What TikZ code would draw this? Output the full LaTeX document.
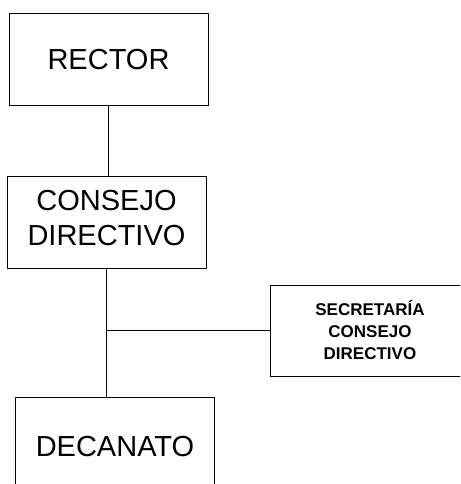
\documentclass[tikz,border=0pt]{standalone}
\usepackage{fontspec}
\setmainfont{Liberation Sans}
\usepackage{tikz}
\tikzstyle{unit} = [rectangle, minimum width=199pt, minimum height=92pt, inner sep=0pt, align=center, draw=black, line width=1pt, font=\fontsize{29}{35}\selectfont]
\tikzstyle{staff} = [rectangle, minimum width=200pt, minimum height=91pt, inner sep=0pt, align=center, draw=black, line width=1pt, font=\fontsize{17}{22}\selectfont\bfseries]
\tikzstyle{line} = [line width=1pt]

\begin{document}
\begin{tikzpicture}[node distance = 162.5pt]
\clip (0,0) rectangle (460pt,-484pt);
\node(1)[unit] at (108.5pt,-59.5pt){RECTOR};
\node(2)[unit, below of = 1, xshift = -2pt]{CONSEJO\\DIRECTIVO\\[-27pt]};
\node(3)[staff, right of = 2, xshift = 101pt, yshift = -108.5pt]{SECRETARÍA\\CONSEJO\\DIRECTIVO};
\node(4)[unit, minimum height=99pt, below of = 2, xshift = 8.5pt, yshift = -62pt]{DECANATO};
\draw[line](1.south) -- (1.south |- 2.north);
\draw[line](2.south) -- (2.south |- 4.north);
\draw[line](2.south |- 3.west) -- (3.west);
\end{tikzpicture}
\end{document}
